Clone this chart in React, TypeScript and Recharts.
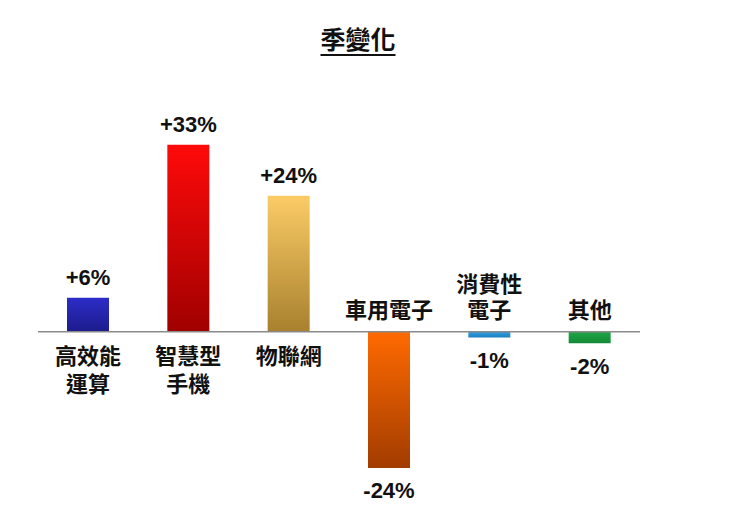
import React from "react";
import { BarChart, Bar, XAxis, YAxis, Cell, LabelList, ReferenceLine } from "recharts";

const categories = ["高效能\n運算", "智慧型\n手機", "物聯網", "車用電子", "消費性\n電子", "其他"];
const changes = [6, 33, 24, -24, -1, -2];
const topColors = ["#2c2cc8", "#ff0a0a", "#fbcc66", "#ff6a00", "#2e9fe0", "#1fa648"];
const bottomColors = ["#1c1c8c", "#a00000", "#a8802e", "#a23c00", "#1f7fbf", "#138a38"];

const data = categories.map((name, i) => ({ name, value: changes[i] }));

const FONT = "'Liberation Sans', Arial, 'Noto Sans CJK TC', sans-serif";

function fmt(v: number) {
  return (v > 0 ? "+" : "") + v + "%";
}

function BarLabels(props: any) {
  const { x, y, width, height, index } = props;
  const v = changes[index];
  const top = Math.min(y, y + height);
  const bottom = Math.max(y, y + height);
  const cx = x + width / 2;
  const lines = categories[index].split("\n");
  const catFont = { fontSize: 22, fontWeight: 700, fill: "#111", fontFamily: FONT };
  const valFont = { fontSize: 22, fontWeight: 700, fill: "#111", fontFamily: FONT };
  if (v >= 0) {
    return (
      <g>
        <text x={cx} y={top - 20} textAnchor="middle" dominantBaseline="central" {...valFont}>
          {fmt(v)}
        </text>
        {lines.map((l, i) => (
          <text key={i} x={cx} y={bottom + 25 + i * 28} textAnchor="middle" dominantBaseline="central" {...catFont}>
            {l}
          </text>
        ))}
      </g>
    );
  }
  return (
    <g>
      <text x={cx} y={bottom + 23} textAnchor="middle" dominantBaseline="central" {...valFont}>
        {fmt(v)}
      </text>
      {lines.map((l, i) => (
        <text
          key={i}
          x={cx}
          y={top - 21 - (lines.length - 1 - i) * 26}
          textAnchor="middle"
          dominantBaseline="central"
          {...catFont}
        >
          {l}
        </text>
      ))}
    </g>
  );
}

export default function App() {
  return (
    <div style={{ position: "absolute", left: 0, top: 0, width: 740, height: 513, background: "#fff" }}>
      <div
        style={{
          position: "absolute",
          top: 20,
          left: 0,
          width: 716,
          textAlign: "center",
          fontFamily: FONT,
          fontWeight: 700,
          fontSize: 25,
          color: "#111",
          textDecoration: "underline",
          textUnderlineOffset: 5,
        }}
      >
        季變化
      </div>
      <BarChart
        width={740}
        height={513}
        data={data}
        margin={{ top: 105, right: 100, bottom: 11, left: 38 }}
        barCategoryGap={29}
      >
        <defs>
          {topColors.map((c, i) => (
            <linearGradient key={i} id={`g${i}`} x1="0" y1="0" x2="0" y2="1">
              <stop offset="0%" stopColor={c} />
              <stop offset="100%" stopColor={bottomColors[i]} />
            </linearGradient>
          ))}
        </defs>
        <XAxis dataKey="name" hide />
        <YAxis domain={[-30, 40]} hide />
        <Bar dataKey="value" barSize={42} isAnimationActive={false}>
          {data.map((d, i) => (
            <Cell key={i} fill={`url(#g${i})`} />
          ))}
          <LabelList dataKey="value" content={BarLabels} />
        </Bar>
        <ReferenceLine y={0} stroke="#8a8a8a" strokeWidth={1.5} />
      </BarChart>
    </div>
  );
}
